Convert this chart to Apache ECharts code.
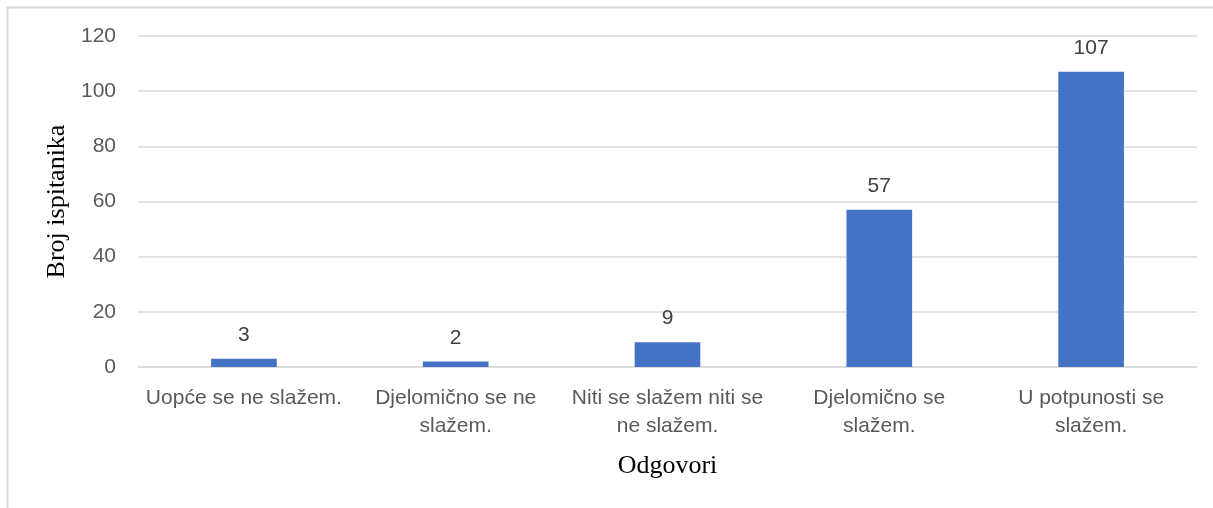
<!DOCTYPE html>
<html>
<head>
<meta charset="utf-8">
<script src="https://cdn.jsdelivr.net/npm/echarts@6/dist/echarts.min.js"></script>
<style>
  html, body { margin: 0; padding: 0; background: #ffffff; }
  #chart { width: 1213px; height: 508px; }
</style>
</head>
<body>
<div id="chart"></div>
<script>
// Survey answers (category labels, with line breaks as shown on the axis)
const categories = [
  'Uopće se ne slažem.',
  'Djelomično se ne\nslažem.',
  'Niti se slažem niti se\nne slažem.',
  'Djelomično se\nslažem.',
  'U potpunosti se\nslažem.'
];
// Number of respondents per answer
const counts = [3, 2, 9, 57, 107];
// Value axis ticks
const yMin = 0;
const yMax = 120;
const yStep = 20;

const chart = echarts.init(document.getElementById('chart'), null, { renderer: 'canvas' });

chart.setOption({
  animation: false,
  backgroundColor: '#ffffff',
  graphic: [
    {
      // chart-area frame (top and left edges visible)
      type: 'polyline',
      shape: { points: [[7.5, 508], [7.5, 7.5], [1213, 7.5]] },
      style: { stroke: '#d9d9d9', lineWidth: 2, fill: null },
      silent: true
    }
  ],
  grid: {
    left: 138,
    right: 16,
    top: 36,
    bottom: 141,
    containLabel: false
  },
  xAxis: {
    type: 'category',
    data: categories,
    name: 'Odgovori',
    nameLocation: 'middle',
    nameGap: 86,
    nameTextStyle: {
      fontFamily: 'Liberation Serif',
      fontSize: 26,
      color: '#000000'
    },
    axisLine: { show: true, lineStyle: { color: '#d9d9d9', width: 1.5 } },
    axisTick: { show: false },
    axisLabel: {
      interval: 0,
      margin: 17,
      fontFamily: 'Liberation Sans',
      fontSize: 21,
      lineHeight: 28,
      color: '#595959'
    }
  },
  yAxis: {
    type: 'value',
    min: yMin,
    max: yMax,
    interval: yStep,
    name: 'Broj ispitanika',
    nameLocation: 'middle',
    nameGap: 67,
    nameTextStyle: {
      fontFamily: 'Liberation Serif',
      fontSize: 26,
      color: '#000000'
    },
    axisLine: { show: false },
    axisTick: { show: false },
    axisLabel: {
      margin: 22,
      fontFamily: 'Liberation Sans',
      fontSize: 21,
      color: '#595959'
    },
    splitLine: { show: true, lineStyle: { color: '#d9d9d9', width: 1.5 } }
  },
  series: [
    {
      type: 'bar',
      data: counts,
      barWidth: '31%',
      itemStyle: { color: '#4472c4' },
      label: {
        show: true,
        position: 'top',
        distance: 13,
        fontFamily: 'Liberation Sans',
        fontSize: 21,
        color: '#404040'
      }
    }
  ]
});
</script>
</body>
</html>
